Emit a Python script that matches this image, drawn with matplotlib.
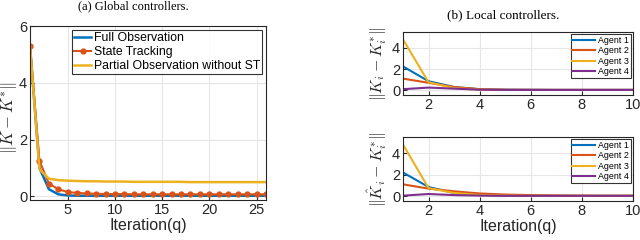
import numpy as np
import matplotlib
matplotlib.use('Agg')
from matplotlib import pyplot as plt

plt.rcParams['font.family'] = ['Liberation Sans', 'DejaVu Sans']
plt.rcParams['mathtext.fontset'] = 'cm'

# global controllers, iterations 1..26
iters_g = np.arange(1, 27)
full_obs = [5.3, 1.0, 0.25, 0.07, 0.03, 0.02, 0.02, 0.02, 0.02, 0.02, 0.02, 0.02, 0.02,
            0.02, 0.02, 0.02, 0.02, 0.02, 0.02, 0.02, 0.02, 0.02, 0.02, 0.02, 0.02, 0.02]
state_track = [5.3, 1.25, 0.45, 0.25, 0.15, 0.12, 0.1, 0.09, 0.08, 0.08, 0.08, 0.07, 0.07,
               0.07, 0.07, 0.07, 0.07, 0.07, 0.07, 0.07, 0.07, 0.07, 0.07, 0.07, 0.07, 0.07]
partial_obs = [5.3, 0.95, 0.62, 0.57, 0.55, 0.54, 0.53, 0.53, 0.52, 0.52, 0.52, 0.51, 0.51,
               0.51, 0.51, 0.51, 0.51, 0.5, 0.5, 0.5, 0.5, 0.5, 0.5, 0.5, 0.5, 0.5]

# local controllers, iterations 1..10
iters_l = np.arange(1, 11)
agent_names = ['Agent 1', 'Agent 2', 'Agent 3', 'Agent 4']
local_top = [
    [2.25, 0.85, 0.3, 0.1, 0.05, 0.04, 0.03, 0.03, 0.03, 0.03],
    [1.1, 0.7, 0.3, 0.1, 0.05, 0.04, 0.03, 0.03, 0.03, 0.03],
    [4.8, 0.75, 0.2, 0.05, 0.03, 0.03, 0.03, 0.03, 0.03, 0.03],
    [0.1, 0.25, 0.15, 0.05, 0.03, 0.03, 0.03, 0.03, 0.03, 0.03],
]
local_bot = [
    [2.2, 0.85, 0.3, 0.12, 0.06, 0.04, 0.03, 0.03, 0.03, 0.03],
    [1.1, 0.7, 0.45, 0.25, 0.15, 0.1, 0.07, 0.05, 0.04, 0.04],
    [4.8, 0.75, 0.3, 0.1, 0.05, 0.03, 0.03, 0.03, 0.03, 0.03],
    [0.05, 0.2, 0.1, 0.05, 0.03, 0.03, 0.03, 0.03, 0.03, 0.03],
]

mcol = ['#0072BD', '#D95319', '#EDB120', '#7E2F8E']
axcol = '#262626'


def style(ax, fs):
    ax.grid(True, color='#e6e6e6', lw=0.8)
    ax.set_axisbelow(True)
    for s in ax.spines.values():
        s.set_color(axcol)
        s.set_linewidth(0.8)
    ax.tick_params(direction='in', length=3, colors=axcol, labelsize=fs, width=0.8, pad=2)


fig = plt.figure(figsize=(6.4, 2.4), dpi=100)

ax1 = fig.add_axes([30 / 640, 40 / 240, 236 / 640, 174 / 240])
ax1.plot(iters_g, full_obs, color=mcol[0], lw=1.8, label='Full Observation')
ax1.plot(iters_g, state_track, color=mcol[1], lw=1.5, marker='o', ms=3.5,
         label='State Tracking')
ax1.plot(iters_g, partial_obs, color=mcol[2], lw=1.8, label='Partial Observation without ST')
ax1.set_xlim(1, 26)
ax1.set_ylim(-0.13, 6)
ax1.set_xticks([5, 10, 15, 20, 25])
ax1.set_yticks([0, 2, 4, 6])
style(ax1, 10.5)
ax1.set_xlabel('Iteration(q)', fontsize=11.5, color=axcol, labelpad=1)
ax1.set_ylabel(r'$\|K-K^{*}\|$', fontsize=12, color=axcol)
ax1.yaxis.set_label_coords(-0.042, 0.47)
leg = ax1.legend(loc='upper right', fontsize=8.8, handlelength=1.4, handletextpad=0.2,
                 borderpad=0.2, labelspacing=0.15, fancybox=False, borderaxespad=0.3)
leg.get_frame().set_edgecolor('black')
leg.get_frame().set_linewidth(0.8)
fig.text(133 / 640, 1 - 6 / 240, '(a) Global controllers.', fontsize=9,
         family='Liberation Serif', ha='center', va='center')

ax2 = fig.add_axes([403 / 640, 145 / 240, 230 / 640, 63 / 240])
ax3 = fig.add_axes([403 / 640, 39 / 240, 230 / 640, 64 / 240])
for ax, data, lab in [(ax2, local_top, r'$\|K_i-K_i^{*}\|$'),
                      (ax3, local_bot, r'$\|\hat{K}_i-K_i^{*}\|$')]:
    for k in range(4):
        ax.plot(iters_l, data[k], color=mcol[k], lw=1.5, label=agent_names[k])
    ax.set_xlim(1, 10)
    ax.set_ylim(-0.45, 5.5)
    ax.set_xticks([2, 4, 6, 8, 10])
    ax.set_yticks([0, 2, 4])
    style(ax, 10.5)
    ax.set_ylabel(lab, fontsize=11.5, color=axcol)
    ax.yaxis.set_label_coords(-0.062, 0.5)
    lg = ax.legend(loc='upper right', fontsize=6.4, handlelength=2.6, handletextpad=0.3,
                   borderpad=0.2, labelspacing=0.15, fancybox=False, borderaxespad=0.25)
    lg.get_frame().set_edgecolor('black')
    lg.get_frame().set_linewidth(0.8)
ax3.set_xlabel('Iteration(q)', fontsize=11.5, color=axcol, labelpad=1)
fig.text(503 / 640, 1 - 15 / 240, '(b) Local controllers.', fontsize=9.5,
         family='Liberation Serif', ha='center', va='center')

fig.savefig('out.png', dpi=100)
